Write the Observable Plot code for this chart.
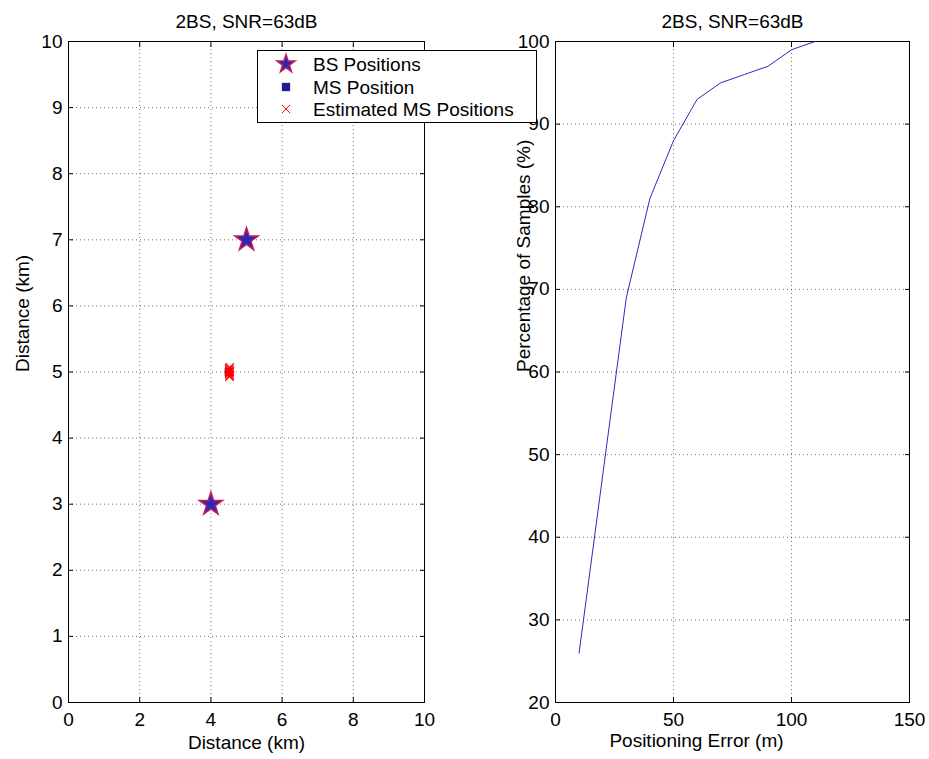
<!DOCTYPE html>
<html>
<head>
<meta charset="utf-8">
<script src="https://cdn.jsdelivr.net/npm/d3@7"></script>
<script src="https://cdn.jsdelivr.net/npm/@observablehq/plot@0.6"></script>
<style>
  html, body { margin: 0; padding: 0; background: #fff; }
  #wrap { position: relative; width: 929px; height: 759px; overflow: hidden;
          font-family: "Liberation Sans", Arial, sans-serif; }
  #wrap > svg.plotpanel { position: absolute; top: 0; }
  #wrap > svg#legend { position: absolute; left: 257px; top: 50px; z-index: 5; }
</style>
</head>
<body>
<div id="wrap"></div>
<script>
// ---- data ----
const titleText = "2BS, SNR=63dB";
const bsX = [5, 4];
const bsY = [7, 3];
const msX = [4.5];
const msY = [5];
const estX = [4.52, 4.53, 4.51, 4.52, 4.53, 4.52, 4.51, 4.53, 4.52];
const estY = [4.93, 4.95, 4.97, 4.99, 5.01, 5.03, 5.05, 5.07, 5.0];
const errX = [10, 20, 30, 40, 50, 60, 70, 80, 90, 100, 110];
const pctY = [26, 47.5, 69, 81, 88, 93, 95, 96, 97, 99, 100];
const distXTicks = [0, 2, 4, 6, 8, 10];
const distYTicks = [0, 1, 2, 3, 4, 5, 6, 7, 8, 9, 10];
const errTicks = [0, 50, 100, 150];
const pctTicks = [20, 30, 40, 50, 60, 70, 80, 90, 100];
const legendLabels = ["BS Positions", "MS Position", "Estimated MS Positions"];

const FONT = "'Liberation Sans', Arial, Helvetica, sans-serif";
const FS = 19;
const starFill = "#2828b4", starStroke = "#c41e5a";
const msFill = "#221a96";
const estColor = "#ff0000";
const lineColor = "#2b2bbd";

const style = { fontFamily: FONT, fontSize: FS + "px", background: "transparent", color: "#000", overflow: "visible" };

function axesMarks(xt, yt) {
  const grid = { stroke: "#000", strokeOpacity: 0.55, strokeDasharray: "1,3" };
  return [
    Plot.gridX(xt, grid),
    Plot.gridY(yt, grid),
    Plot.frame({ stroke: "#000", strokeWidth: 1 }),
    Plot.axisX(xt, { anchor: "bottom", tickSize: -5, tickPadding: 15, tickFormat: d => String(d), label: null }),
    Plot.axisX(xt, { anchor: "top", tickSize: -5, tickFormat: () => "", label: null }),
    Plot.axisY(yt, { anchor: "left", tickSize: -5, tickPadding: 11, tickFormat: d => String(d), label: null }),
    Plot.axisY(yt, { anchor: "right", tickSize: -5, tickFormat: () => "", label: null })
  ];
}

const left = Plot.plot({
  width: 460, height: 759,
  marginLeft: 68, marginRight: 36, marginTop: 41, marginBottom: 57,
  style,
  x: { domain: [0, 10] },
  y: { domain: [0, 10] },
  marks: [
    ...axesMarks(distXTicks, distYTicks),
    Plot.dot(msX, { x: msX, y: msY, symbol: "square", fill: msFill, r: 4.5 }),
    Plot.dot(estX, { x: estX, y: estY, symbol: "times", stroke: estColor, r: 3.9, strokeWidth: 1.2 }),
    Plot.dot(bsX, { x: bsX, y: bsY, symbol: "star", fill: starFill, stroke: starStroke, strokeWidth: 1.5, r: 7.3 }),
    Plot.text([titleText], { frameAnchor: "top", text: d => d, dy: -20, lineAnchor: "middle", fontSize: FS }),
    Plot.text(["Distance (km)"], { frameAnchor: "bottom", text: d => d, dy: 40, lineAnchor: "middle", fontSize: FS }),
    Plot.text(["Distance (km)"], { frameAnchor: "left", text: d => d, dx: -46, rotate: -90, lineAnchor: "middle", fontSize: FS })
  ]
});

const right = Plot.plot({
  width: 469, height: 759,
  marginLeft: 95, marginRight: 20, marginTop: 41, marginBottom: 57,
  style,
  x: { domain: [0, 150] },
  y: { domain: [20, 100] },
  marks: [
    ...axesMarks(errTicks, pctTicks),
    Plot.line(errX, { x: errX, y: pctY, stroke: lineColor, strokeWidth: 1 }),
    Plot.text([titleText], { frameAnchor: "top", text: d => d, dy: -20, lineAnchor: "middle", fontSize: FS }),
    Plot.text(["Positioning Error (m)"], { frameAnchor: "bottom", text: d => d, dx: -36, dy: 38, lineAnchor: "middle", fontSize: FS }),
    Plot.text(["Percentage of Samples (%)"], { frameAnchor: "left", text: d => d, dx: -32, rotate: -90, lineAnchor: "middle", fontSize: FS })
  ]
});

const wrap = document.getElementById("wrap");
left.classList.add("plotpanel");
right.classList.add("plotpanel");
left.style.left = "0px";
right.style.left = "460px";
wrap.appendChild(left);
wrap.appendChild(right);

// ---- legend ----
const lw = 280, lh = 73;
const lg = d3.select(wrap).append("svg").attr("id", "legend")
  .attr("width", lw).attr("height", lh)
  .style("position", "absolute").style("left", "257px").style("top", "50px")
  .style("font-family", FONT).style("font-size", FS + "px");
lg.append("rect").attr("x", 0.5).attr("y", 0.5).attr("width", lw - 1).attr("height", lh - 1)
  .attr("fill", "#fff").attr("stroke", "#000").attr("stroke-width", 1);
const rowsY = [14, 37, 59];
const symbols = [
  { type: d3.symbolStar, size: 101, fill: starFill, stroke: starStroke, sw: 1.5 },
  { type: d3.symbolSquare, size: 69, fill: msFill, stroke: "none", sw: 0 },
  { type: d3.symbolTimes, size: 47, fill: "none", stroke: estColor, sw: 1 }
];
legendLabels.forEach((lab, i) => {
  const s = symbols[i];
  lg.append("path").attr("d", d3.symbol(s.type, s.size)())
    .attr("transform", `translate(29,${rowsY[i]})`)
    .attr("fill", s.fill).attr("stroke", s.stroke).attr("stroke-width", s.sw);
  lg.append("text").attr("x", 56).attr("y", rowsY[i]).attr("dy", "0.36em").text(lab);
});
</script>
</body>
</html>
